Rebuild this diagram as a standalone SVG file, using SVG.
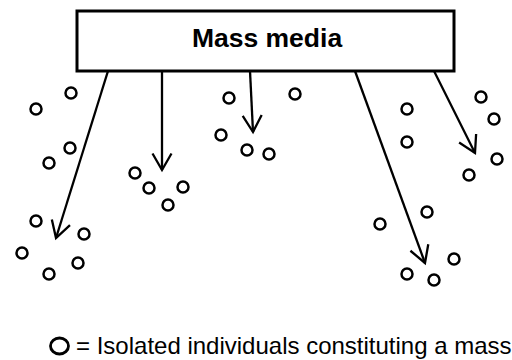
<svg xmlns="http://www.w3.org/2000/svg" width="512" height="360" viewBox="0 0 512 360">
<defs>
<style>
.box{fill:#fff;stroke:#000;stroke-width:3}
.t{font-family:"Liberation Sans",Arial,sans-serif;fill:#000}
.c{fill:none;stroke:#000;stroke-width:2.5}
.l{fill:none;stroke:#000;stroke-width:2.3;marker-end:url(#v)}
</style>
<marker id="v" markerUnits="userSpaceOnUse" markerWidth="40" markerHeight="40" viewBox="-20 -20 40 40" refX="0" refY="0" orient="auto" overflow="visible">
<path d="M-16.5,-9.5 L0,0 L-16.5,9.5" fill="none" stroke="#000" stroke-width="2.3"/>
</marker>
</defs>
<rect width="512" height="360" fill="#fff"/>
<g id="connectors">
<line class="l" x1="108" y1="71" x2="56" y2="238"/>
<line class="l" x1="162" y1="71" x2="162" y2="170"/>
<line class="l" x1="250" y1="71" x2="253" y2="132"/>
<line class="l" x1="355" y1="71" x2="425" y2="263"/>
<line class="l" x1="434" y1="71" x2="475" y2="153"/>
</g>
<g id="mass-media">
<rect class="box" x="77" y="11" width="377" height="60"/>
<text class="t" x="267" y="47" font-size="26.5" font-weight="bold" text-anchor="middle">Mass media</text>
</g>
<g id="individuals">
<circle class="c" cx="36" cy="109" r="5.5"/>
<circle class="c" cx="71" cy="93" r="5.5"/>
<circle class="c" cx="70" cy="148" r="5.5"/>
<circle class="c" cx="49" cy="163" r="5.5"/>
<circle class="c" cx="135" cy="173" r="5.5"/>
<circle class="c" cx="149" cy="188" r="5.5"/>
<circle class="c" cx="183" cy="187" r="5.5"/>
<circle class="c" cx="168" cy="205" r="5.5"/>
<circle class="c" cx="229" cy="98" r="5.5"/>
<circle class="c" cx="221" cy="135" r="5.5"/>
<circle class="c" cx="247" cy="150" r="5.5"/>
<circle class="c" cx="269" cy="154" r="5.5"/>
<circle class="c" cx="295" cy="94" r="5.5"/>
<circle class="c" cx="407" cy="109" r="5.5"/>
<circle class="c" cx="407" cy="142" r="5.5"/>
<circle class="c" cx="481" cy="97" r="5.5"/>
<circle class="c" cx="494" cy="119" r="5.5"/>
<circle class="c" cx="497" cy="159" r="5.5"/>
<circle class="c" cx="469" cy="175" r="5.5"/>
<circle class="c" cx="36" cy="221" r="5.5"/>
<circle class="c" cx="84" cy="234" r="5.5"/>
<circle class="c" cx="22" cy="253" r="5.5"/>
<circle class="c" cx="78" cy="263" r="5.5"/>
<circle class="c" cx="49" cy="274" r="5.5"/>
<circle class="c" cx="380" cy="224" r="5.5"/>
<circle class="c" cx="427" cy="212" r="5.5"/>
<circle class="c" cx="454" cy="259" r="5.5"/>
<circle class="c" cx="407" cy="274" r="5.5"/>
<circle class="c" cx="434" cy="280" r="5.5"/>
</g>
<g id="legend">
<ellipse cx="59.5" cy="346" rx="9" ry="8" fill="none" stroke="#000" stroke-width="2.8"/>
<text class="t" x="76" y="354" font-size="24">= Isolated individuals constituting a mass</text>
</g>
</svg>
